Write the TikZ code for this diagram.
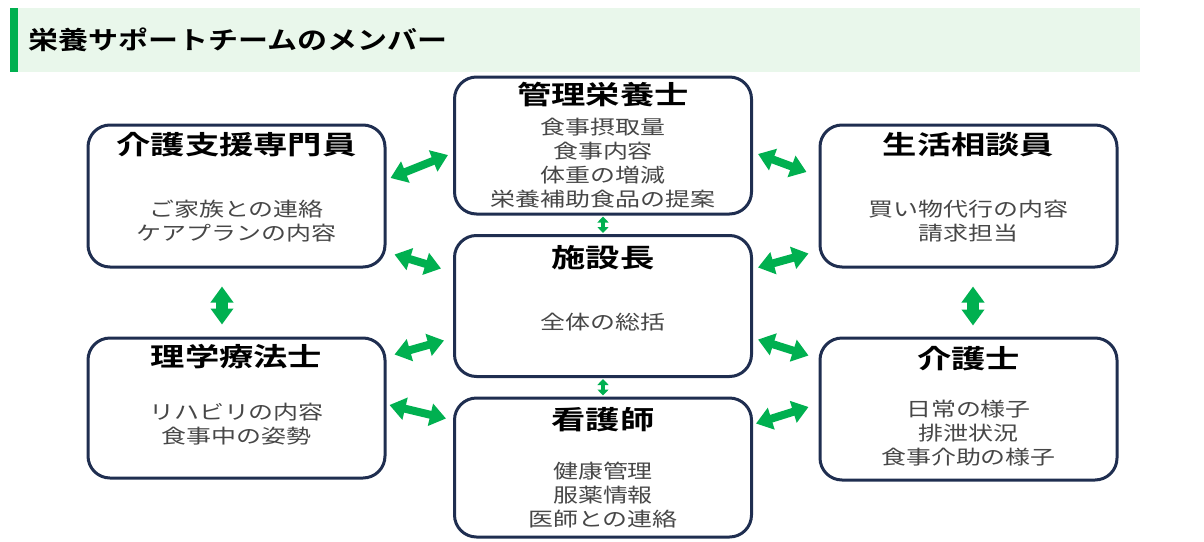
\documentclass[tikz,border=0pt]{standalone}
\usepackage{fontspec}
\newfontfamily\jpbody[FakeStretch=1.28]{Noto Sans CJK JP}
\newfontfamily\jphead[FakeStretch=1.32,BoldFont={* Bold}]{Noto Sans CJK JP}
\newfontfamily\jpbar[FakeStretch=1.2,BoldFont={* Bold}]{Noto Sans CJK JP}
\usetikzlibrary{arrows.meta,positioning}
\definecolor{boxnavy}{RGB}{31,46,80}
\definecolor{arrowgreen}{RGB}{0,176,80}
\definecolor{barfill}{RGB}{233,247,235}
\tikzset{member/.style={draw=boxnavy, line width=3pt, rounded corners=22pt,
    fill=white, minimum width=297pt, inner sep=0pt}}
\tikzset{role/.style={font=\jphead\bfseries\fontsize{26}{30}\selectfont, inner sep=0pt}}
\tikzset{duty/.style={font=\jpbody\fontsize{19.5}{24}\selectfont, text=black!72,
    align=center, inner sep=0pt}}
\tikzset{link/.style={draw=arrowgreen, line width=8pt,
    {Triangle[width=22pt,length=16pt]}-{Triangle[width=22pt,length=16pt]}}}
\tikzset{shortlink/.style={draw=arrowgreen, line width=3.5pt,
    {Triangle[width=11pt,length=6pt]}-{Triangle[width=11pt,length=6pt]}}}

\begin{document}
\begin{tikzpicture}[x=1pt, y=-1pt]
    \useasboundingbox (0,0) rectangle (1204,541);

    % title bar
    \fill[barfill] (10,8) rectangle (1140,72);
    \fill[arrowgreen] (10,8) rectangle (18,72);
    \node[anchor=west, inner sep=0pt, font=\jpbar\bfseries\fontsize{25}{30}\selectfont]
      (title) at (28,40) {栄養サポートチームのメンバー};

    % members
    \node[member, minimum height=142pt] (cm) at (236.5,196) {};
    \node[member, minimum height=140pt] (pt) at (236.5,408) {};
    \node[member, minimum height=137pt] (kanri) at (603,145.5) {};
    \node[member, minimum height=141pt] (head) at (603,306) {};
    \node[member, minimum height=139pt] (ns) at (603,467.5) {};
    \node[member, minimum height=142pt] (sw) at (968.5,196) {};
    \node[member, minimum height=142pt] (cw) at (968.5,409) {};

    \node[role] (cmrole) at (236.5,145) {介護支援専門員};
    \node[duty] (cmduty) at (236.5,221) {ご家族との連絡\\ケアプランの内容};
    \node[role] (ptrole) at (236.5,357) {理学療法士};
    \node[duty] (ptduty) at (236.5,424) {リハビリの内容\\食事中の姿勢};
    \node[role] (kanrirole) at (603,95) {管理栄養士};
    \node[duty] (kanriduty) at (603,163) {食事摂取量\\食事内容\\体重の増減\\栄養補助食品の提案};
    \node[role] (headrole) at (603,258) {施設長};
    \node[duty] (headduty) at (603,322) {全体の総括};
    \node[role] (nsrole) at (603,420) {看護師};
    \node[duty] (nsduty) at (603,495) {健康管理\\服薬情報\\医師との連絡};
    \node[role] (swrole) at (968.5,145) {生活相談員};
    \node[duty] (swduty) at (968.5,221) {買い物代行の内容\\請求担当};
    \node[role] (cwrole) at (968.5,359) {介護士};
    \node[duty] (cwduty) at (968.5,433) {日常の様子\\排泄状況\\食事介助の様子};

    % links
    \draw[link] ([shift={(4,-18)}]cm.east) -- ([shift={(-5,9.5)}]kanri.west);
    \draw[link] ([shift={(8,-14)}]cm.south east) -- ([shift={(-12,34.5)}]head.north west);
    \draw[link] ([shift={(8,18)}]pt.north east) -- ([shift={(-9,-37.5)}]head.south west);
    \draw[link] ([shift={(3,-3)}]pt.east) -- ([shift={(-7,22)}]ns.north west);
    \draw[link] ([shift={(5,8.5)}]kanri.east) -- ([shift={(-12,-24)}]sw.west);
    \draw[link] ([shift={(5,33.5)}]head.north east) -- ([shift={(-10,-15)}]sw.south west);
    \draw[link] ([shift={(5,-38.5)}]head.south east) -- ([shift={(-10,19)}]cw.north west);
    \draw[link] ([shift={(3,27)}]ns.north east) -- ([shift={(-10,-2)}]cw.west);
    \draw[link, line width=12pt] ([shift={(-14.5,18)}]cm.south) -- ([shift={(-14.5,-12)}]pt.north);
    \draw[link, line width=12pt] ([shift={(4.5,18)}]sw.south) -- ([shift={(4.5,-11)}]cw.north);
    \draw[shortlink] ([yshift=-1pt]kanri.south) -- ([yshift=1pt]head.north);
    \draw[shortlink] ([yshift=-1pt]head.south) -- ([yshift=1pt]ns.north);
\end{tikzpicture}
\end{document}
